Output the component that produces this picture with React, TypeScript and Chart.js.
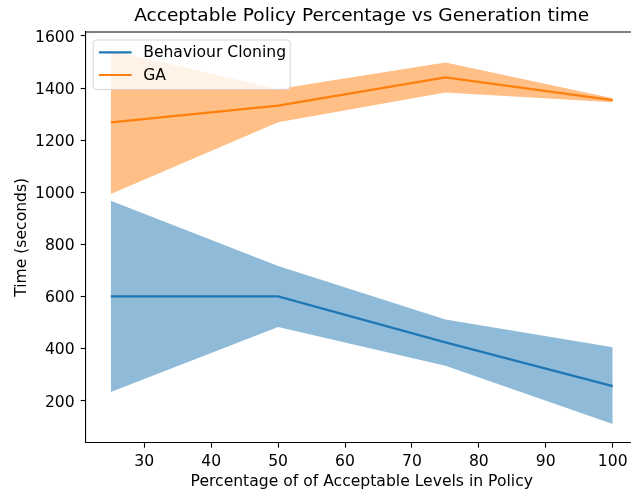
import React, { useEffect, useRef } from "react";
import { Chart, registerables } from "chart.js";

Chart.register(...registerables);

const xValues = [25, 50, 75, 100];
const bcMean = [601, 601, 425, 257];
const bcUpper = [968, 718, 513, 406];
const bcLower = [234, 484, 335, 112];
const gaMean = [1269, 1333, 1441, 1354];
const gaUpper = [1543, 1397, 1498, 1361];
const gaLower = [994, 1269, 1383, 1346];

const xTicks = [30, 40, 50, 60, 70, 80, 90, 100];
const yTicks = [200, 400, 600, 800, 1000, 1200, 1400, 1600];

const seriesNames = ["Behaviour Cloning", "GA"];
const titleText = "Acceptable Policy Percentage vs Generation time";
const xTitle = "Percentage of of Acceptable Levels in Policy";
const yTitle = "Time (seconds)";

const BLUE = "#1f77b4";
const ORANGE = "#ff7f0e";
const FONT = "'DejaVu Sans', sans-serif";
const FS = 15.6;

const pts = (ys: number[]) => ys.map((y, i) => ({ x: xValues[i], y }));

const framePlugin = {
  id: "frameAndLegend",
  afterDatasetsDraw(chart: any) {
    const { ctx, chartArea } = chart;
    ctx.save();
    // top & right spines
    ctx.strokeStyle = "#000";
    ctx.lineWidth = 1.1;
    ctx.beginPath();
    ctx.moveTo(chartArea.left, chartArea.top);
    ctx.lineTo(chartArea.right, chartArea.top);
    ctx.lineTo(chartArea.right, chartArea.bottom);
    ctx.stroke();

    // legend box
    const x0 = chartArea.left + 7.5;
    const y0 = chartArea.top + 8;
    const w = 197;
    const h = 49.5;
    const r = 3;
    ctx.beginPath();
    ctx.moveTo(x0 + r, y0);
    ctx.lineTo(x0 + w - r, y0);
    ctx.quadraticCurveTo(x0 + w, y0, x0 + w, y0 + r);
    ctx.lineTo(x0 + w, y0 + h - r);
    ctx.quadraticCurveTo(x0 + w, y0 + h, x0 + w - r, y0 + h);
    ctx.lineTo(x0 + r, y0 + h);
    ctx.quadraticCurveTo(x0, y0 + h, x0, y0 + h - r);
    ctx.lineTo(x0, y0 + r);
    ctx.quadraticCurveTo(x0, y0, x0 + r, y0);
    ctx.closePath();
    ctx.fillStyle = "rgba(255,255,255,0.8)";
    ctx.fill();
    ctx.strokeStyle = "rgba(204,204,204,0.8)";
    ctx.lineWidth = 1;
    ctx.stroke();

    const colors = [BLUE, ORANGE];
    seriesNames.forEach((name, i) => {
      const y = y0 + 12.3 + i * 22.7;
      ctx.strokeStyle = colors[i];
      ctx.lineWidth = 2.2;
      ctx.beginPath();
      ctx.moveTo(x0 + 5.7, y);
      ctx.lineTo(x0 + 38.4, y);
      ctx.stroke();
      ctx.fillStyle = "#000";
      ctx.font = `${FS}px ${FONT}`;
      ctx.textBaseline = "middle";
      ctx.textAlign = "left";
      ctx.fillText(name, x0 + 50, y + 1);
    });
    ctx.restore();
  },
};

export default function App() {
  const ref = useRef<HTMLCanvasElement>(null);

  useEffect(() => {
    if (!ref.current) return;
    const chart = new Chart(ref.current, {
      type: "line",
      data: {
        datasets: [
          {
            label: "bcUpper",
            data: pts(bcUpper),
            borderColor: "transparent",
            borderWidth: 0,
            pointRadius: 0,
            fill: false,
            tension: 0,
            order: 4,
          },
          {
            label: "bcLower",
            data: pts(bcLower),
            borderColor: "transparent",
            borderWidth: 0,
            pointRadius: 0,
            backgroundColor: "rgba(31,119,180,0.5)",
            fill: "-1",
            tension: 0,
            order: 4,
          },
          {
            label: seriesNames[0],
            data: pts(bcMean),
            borderColor: BLUE,
            borderWidth: 2.2,
            pointRadius: 0,
            fill: false,
            tension: 0,
            order: 2,
          },
          {
            label: "gaUpper",
            data: pts(gaUpper),
            borderColor: "transparent",
            borderWidth: 0,
            pointRadius: 0,
            fill: false,
            tension: 0,
            order: 3,
          },
          {
            label: "gaLower",
            data: pts(gaLower),
            borderColor: "transparent",
            borderWidth: 0,
            pointRadius: 0,
            backgroundColor: "rgba(255,127,14,0.5)",
            fill: "-1",
            tension: 0,
            order: 3,
          },
          {
            label: seriesNames[1],
            data: pts(gaMean),
            borderColor: ORANGE,
            borderWidth: 2.2,
            pointRadius: 0,
            fill: false,
            tension: 0,
            order: 1,
          },
        ],
      },
      options: {
        animation: false,
        responsive: false,
        devicePixelRatio: 1,
        layout: { padding: { left: 0, right: 2.2, top: 0, bottom: 0 } },
        plugins: {
          legend: { display: false },
          tooltip: { enabled: false },
          title: {
            display: true,
            text: titleText,
            color: "#000",
            fullSize: false,
            font: { family: FONT, size: 18.5, weight: "normal", lineHeight: 1.2 },
            padding: { top: 4.9, bottom: 4.9 },
          },
        },
        scales: {
          x: {
            type: "linear",
            min: 21.25,
            max: 103.75,
            afterBuildTicks: (s: any) => {
              s.ticks = xTicks.map((v) => ({ value: v }));
            },
            afterFit: (s: any) => {
              s.height = 50.3;
            },
            grid: {
              drawOnChartArea: false,
              drawTicks: true,
              tickLength: 5,
              tickWidth: 1.1,
              color: "#000",
            },
            border: { color: "#000", width: 1.1 },
            ticks: {
              color: "#000",
              font: { family: FONT, size: FS },
              padding: 5,
              maxRotation: 0,
              autoSkip: false,
              callback: (v: any) => String(v),
            },
            title: {
              display: true,
              text: xTitle,
              color: "#000",
              font: { family: FONT, size: FS, lineHeight: 1.2 },
              padding: { top: 0, bottom: 1.6 },
            },
          },
          y: {
            type: "linear",
            min: 40,
            max: 1615.3,
            afterBuildTicks: (s: any) => {
              s.ticks = yTicks.map((v) => ({ value: v }));
            },
            afterFit: (s: any) => {
              s.width = 85.7;
            },
            grid: {
              drawOnChartArea: false,
              drawTicks: true,
              tickLength: 5,
              tickWidth: 1.1,
              color: "#000",
            },
            border: { color: "#000", width: 1.1 },
            ticks: {
              color: "#000",
              font: { family: FONT, size: FS },
              padding: 6,
              labelOffset: 1.5,
              autoSkip: false,
              callback: (v: any) => String(v),
            },
            title: {
              display: true,
              text: yTitle,
              color: "#000",
              font: { family: FONT, size: FS, lineHeight: 1.2 },
              padding: { top: 12.3, bottom: 0 },
            },
          },
        },
      },
      plugins: [framePlugin],
    } as any);
    return () => chart.destroy();
  }, []);

  return (
    <div
      style={{
        position: "fixed",
        left: 0,
        top: 0,
        width: 631,
        height: 493,
        overflow: "hidden",
        background: "#fff",
      }}
    >
      <canvas ref={ref} width={640} height={493} style={{ width: 640, height: 493, display: "block" }} />
    </div>
  );
}
